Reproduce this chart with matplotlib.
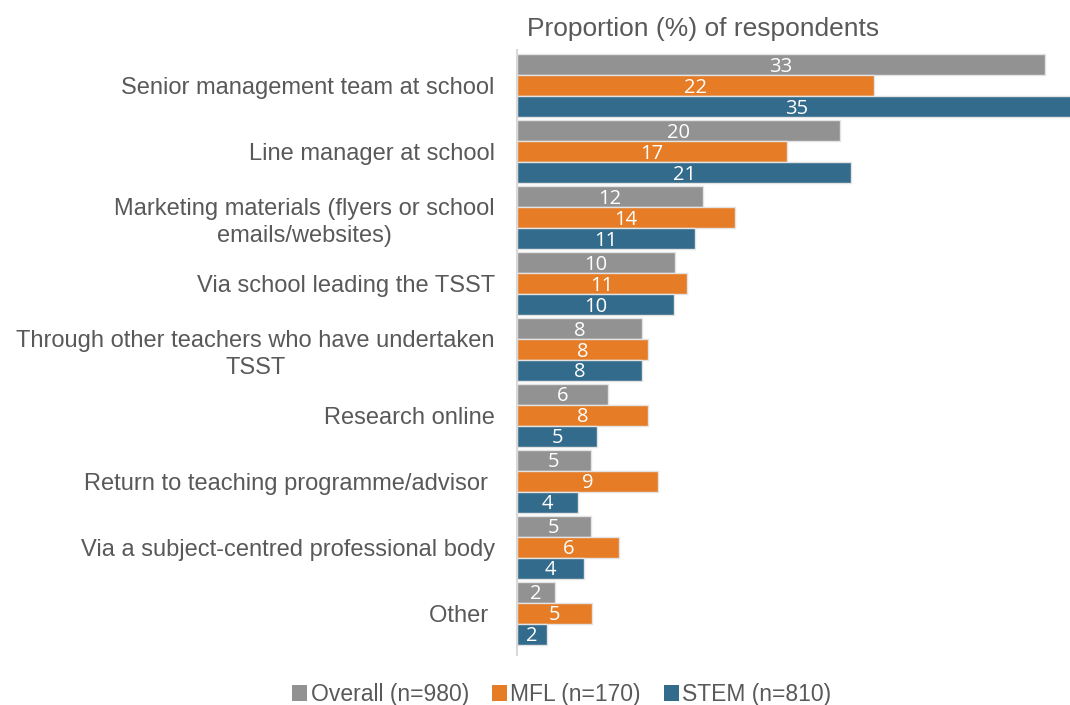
import numpy as np
import matplotlib.pyplot as plt

# categories, top to bottom
categories = [
    "Senior management team at school",
    "Line manager at school",
    "Marketing materials (flyers or school\nemails/websites)",
    "Via school leading the TSST",
    "Through other teachers who have undertaken\nTSST",
    "Research online",
    "Return to teaching programme/advisor ",
    "Via a subject-centred professional body",
    "Other ",
]

# proportion (%) of respondents
overall = [33.0, 20.2, 11.6, 9.9, 7.8, 5.7, 4.6, 4.6, 2.4]
mfl = [22.3, 16.9, 13.6, 10.6, 8.2, 8.2, 8.8, 6.4, 4.7]
stem = [35.0, 20.9, 11.1, 9.8, 7.8, 5.0, 3.8, 4.2, 1.9]

overall_lbl = [33, 20, 12, 10, 8, 6, 5, 5, 2]
mfl_lbl = [22, 17, 14, 11, 8, 8, 9, 6, 5]
stem_lbl = [35, 21, 11, 10, 8, 5, 4, 4, 2]

series = [
    ("Overall (n=980)", overall, overall_lbl, "#929292"),
    ("MFL (n=170)", mfl, mfl_lbl, "#E67C25"),
    ("STEM (n=810)", stem, stem_lbl, "#336B8C"),
]

fig = plt.figure(figsize=(10.7, 7.05), dpi=100)
ax = fig.add_axes([0.4832, 0.071, 0.5168, 0.858])

y = np.arange(len(categories))
h = 0.318
for k, (name, vals, lbls, col) in enumerate(series):
    pos = y + (k - 1) * h
    bars = ax.barh(pos, vals, height=h, color=col, edgecolor="#E3E3E3",
                   linewidth=1.0, label=name)
    for b, l in zip(bars, lbls):
        ax.text(b.get_width() / 2, b.get_y() + b.get_height() / 2 + 0.03,
                str(l), ha="center", va="center", color="white",
                fontsize=14.5, family="Open Sans")

ax.set_xlim(0, 34.56)
ax.set_ylim(8.63, -0.54)
ax.set_xticks([])
ax.set_yticks(y)
ax.set_yticklabels(categories, fontsize=17, color="#595959",
                   family="Liberation Sans", multialignment="center",
                   linespacing=1.3)
ax.tick_params(axis="y", length=0, pad=16)
for s in ["top", "right", "bottom"]:
    ax.spines[s].set_visible(False)
ax.spines["left"].set_color("#D9D9D9")
ax.spines["left"].set_linewidth(1.5)

fig.text(0.4925, 0.959, "Proportion (%) of respondents", fontsize=19,
         color="#595959", family="Liberation Sans", va="center", ha="left")

leg = fig.legend(loc="center", bbox_to_anchor=(0.525, 0.015), ncol=3,
                 frameon=False, handlelength=0.65,
                 handleheight=0.65, handletextpad=0.15, columnspacing=1.0,
                 prop={"family": "Liberation Sans", "size": 16.5})
for t in leg.get_texts():
    t.set_color("#595959")
for p in leg.get_patches():
    p.set_edgecolor("none")

fig.savefig("out.png", dpi=100)
